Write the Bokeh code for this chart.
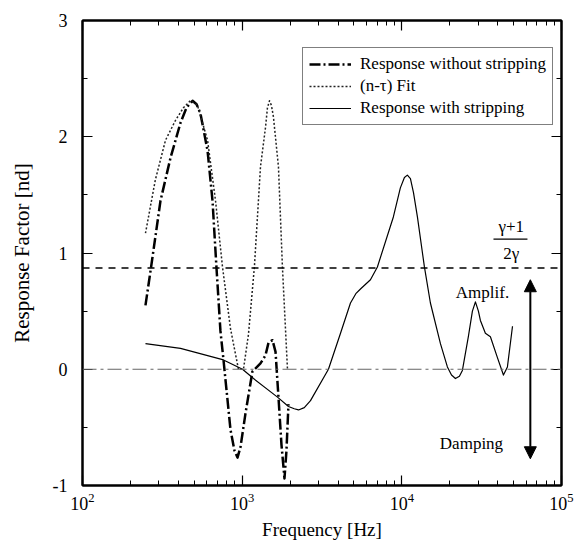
from bokeh.plotting import figure
from bokeh.models import (Range1d, FixedTicker, LogAxis, LinearAxis, Span, Arrow,
                          NormalHead, Label, LogTicker)
from bokeh.embed import file_html
from bokeh.resources import INLINE

# ---------------- data ----------------
freq_without = [248, 267, 308, 356, 411, 448, 489, 518, 548, 607, 652, 690, 731, 764, 845, 895, 935,
                976, 1049, 1159, 1302, 1400, 1463, 1549, 1618, 1688, 1763, 1841, 1894, 1950]
resp_without = [0.55, 0.85, 1.45, 1.82, 2.12, 2.25, 2.31, 2.28, 2.20, 1.88, 1.45, 0.88, 0.33, 0.08,
                -0.52, -0.70, -0.76, -0.67, -0.38, -0.02, 0.05, 0.12, 0.23, 0.25, 0.15, -0.24,
                -0.65, -0.94, -0.70, -0.30]

freq_fit = [248, 286, 331, 382, 429, 474, 525, 607, 681, 753, 845, 948, 1019, 1095, 1193, 1302,
            1400, 1440, 1483, 1525, 1570, 1688, 1787, 1922]
resp_fit = [1.17, 1.63, 1.97, 2.14, 2.25, 2.31, 2.27, 1.97, 1.45, 0.88, 0.35, 0.0, 0.0, 0.30, 0.88,
            1.74, 2.08, 2.25, 2.31, 2.27, 2.17, 1.74, 0.88, 0.0]

freq_with = [248, 411, 764, 1005, 1178, 1664, 1950, 2120, 2253, 2450, 2679, 3470, 4130, 4768,
             5150, 5508, 6360, 7030, 8850, 9790, 10380, 10830, 11320, 11830, 12520, 13850, 15100,
             17450, 19290, 20470, 21660, 22940, 23950, 26100, 27670, 28900, 30170, 31050, 33370,
             35870, 39690, 43280, 45840, 49330]
resp_with = [0.22, 0.18, 0.08, 0.00, -0.08, -0.24, -0.32, -0.34, -0.35, -0.33, -0.27, 0.00, 0.31,
             0.57, 0.65, 0.69, 0.77, 0.88, 1.31, 1.56, 1.65, 1.67, 1.64, 1.52, 1.31, 0.88, 0.57,
             0.22, 0.02, -0.05, -0.08, -0.06, -0.01, 0.28, 0.50, 0.58, 0.50, 0.42, 0.31, 0.28,
             0.10, -0.05, 0.02, 0.37]

gamma_level = 0.87          # (gamma+1)/(2 gamma) reference line
y_ticks = [-1, 0, 1, 2, 3]
y_minor = [-0.5, 0.5, 1.5, 2.5]
x_range = (1e2, 1e5)
y_range = (-1, 3)

legend_labels = ["Response without stripping", "(n-\u03c4) Fit", "Response with stripping"]

FONT = "Liberation Serif"

# ---------------- figure ----------------
p = figure(width=585, height=544, x_axis_type="log",
           x_range=Range1d(*x_range), y_range=Range1d(*y_range),
           output_backend="svg", toolbar_location=None,
           min_border_left=82, min_border_right=24, min_border_top=20, min_border_bottom=59)
p.xgrid.visible = False
p.ygrid.visible = False
p.outline_line_color = "black"
p.outline_line_width = 2
p.background_fill_color = "white"
p.border_fill_color = "white"

def style_axis(ax):
    ax.axis_line_width = 2
    ax.axis_line_color = "black"
    ax.major_tick_in = 10
    ax.major_tick_out = 0
    ax.minor_tick_in = 5
    ax.minor_tick_out = 0
    ax.major_tick_line_width = 1.2
    ax.minor_tick_line_width = 1
    ax.major_label_text_font = FONT
    ax.major_label_text_font_size = "18px"
    ax.major_label_text_color = "black"
    ax.axis_label_text_font = FONT
    ax.axis_label_text_font_style = "normal"
    ax.axis_label_text_color = "black"

# left axis
p.yaxis.ticker = FixedTicker(ticks=y_ticks, minor_ticks=y_minor)
p.yaxis.major_label_overrides = {-1: "-1"}
style_axis(p.yaxis[0])
p.yaxis.axis_label = "Response Factor [nd]"
p.yaxis.axis_label_text_font_size = "21px"
p.yaxis.major_label_standoff = 15
p.yaxis.axis_label_standoff = 16

# bottom axis
style_axis(p.xaxis[0])
p.xaxis.ticker = LogTicker(num_minor_ticks=10)
p.xaxis.axis_label = "Frequency [Hz]"
p.xaxis.axis_label_text_font_size = "19px"
p.xaxis.major_label_standoff = 7
p.xaxis.axis_label_standoff = 6

# mirror axes (ticks only)
right = LinearAxis(ticker=FixedTicker(ticks=y_ticks, minor_ticks=y_minor))
style_axis(right)
right.major_label_text_font_size = "2px"
right.major_label_text_alpha = 0
right.major_label_standoff = 0
p.add_layout(right, "right")

top = LogAxis(ticker=LogTicker(num_minor_ticks=10))
style_axis(top)
top.major_label_text_font_size = "2px"
top.major_label_text_alpha = 0
top.major_label_standoff = 0
p.add_layout(top, "above")

# reference lines
p.add_layout(Span(location=0, dimension="width", line_color="#666666",
                  line_width=1, line_dash="14 4 3 4"))
p.add_layout(Span(location=gamma_level, dimension="width", line_color="black",
                  line_width=1.5, line_dash="7 6"))

# curves
p.line(freq_without, resp_without, line_color="black", line_width=2.5,
       line_dash="11 3 2 3", line_join="round", legend_label=legend_labels[0])
p.line(freq_fit, resp_fit, line_color="#222222", line_width=1.5,
       line_dash="2 2", line_join="round", legend_label=legend_labels[1])
p.line(freq_with, resp_with, line_color="black", line_width=1.2,
       line_join="round", legend_label=legend_labels[2])

# annotations
txt = dict(text_font=FONT, text_font_size="17px", text_color="black",
           text_align="center", text_baseline="middle")
p.add_layout(Label(x=32000, y=0.66, text="Amplif.", **txt))
p.add_layout(Label(x=27300, y=-0.64, text="Damping", **txt))
p.add_layout(Label(x=48500, y=1.23, text="\u03b3+1", **txt))
p.add_layout(Label(x=48500, y=1.00, text="2\u03b3", **txt))
p.segment(x0=[37500], y0=[1.12], x1=[61200], y1=[1.12], line_color="black", line_width=1.2)

p.add_layout(Arrow(x_start=63800, y_start=-0.77, x_end=63800, y_end=0.77,
                   line_color="black", line_width=2,
                   start=NormalHead(size=12, fill_color="black", line_color="black"),
                   end=NormalHead(size=12, fill_color="black", line_color="black")))

# legend
lg = p.legend[0]
lg.location = (220, 360)
lg.label_text_font = FONT
lg.label_text_font_size = "17px"
lg.label_text_color = "black"
lg.glyph_width = 42
lg.glyph_height = 20
lg.label_height = 20
lg.label_standoff = 9
lg.spacing = 2
lg.padding = 6
lg.margin = 0
lg.border_line_color = "black"
lg.border_line_width = 1.5
lg.background_fill_alpha = 1.0

open("out.html", "w").write(file_html(p, INLINE))
